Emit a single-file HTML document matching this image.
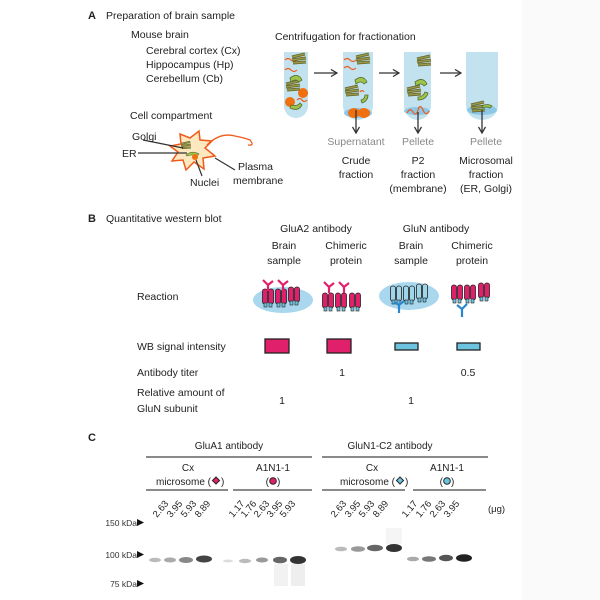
<!DOCTYPE html>
<html><head><meta charset="utf-8"><style>
html,body{margin:0;padding:0;background:#fff;}
svg{display:block;font-family:"Liberation Sans",Arial,sans-serif;}
</style></head><body>
<svg width="600" height="600" viewBox="0 0 600 600" xmlns="http://www.w3.org/2000/svg">
<defs>
<marker id="ar" markerWidth="8" markerHeight="8" refX="7" refY="4" orient="auto" markerUnits="userSpaceOnUse"><path d="M1,0.5 L7,4 L1,7.5" fill="none" stroke="#333" stroke-width="1.3"/></marker>
<g id="pr"><rect x="-5.5" y="-9" width="5" height="15" rx="2.2" fill="#e0206a" stroke="#222" stroke-width="0.8"/><rect x="0.5" y="-9" width="5" height="15" rx="2.2" fill="#e0206a" stroke="#222" stroke-width="0.8"/><rect x="-4" y="5" width="3" height="4" fill="#6cc3e0" stroke="#222" stroke-width="0.6"/><rect x="1" y="5" width="3" height="4" fill="#6cc3e0" stroke="#222" stroke-width="0.6"/></g>
<g id="pb"><rect x="-5.5" y="-9" width="5" height="15" rx="2.2" fill="#9fd6ea" stroke="#222" stroke-width="0.8"/><rect x="0.5" y="-9" width="5" height="15" rx="2.2" fill="#9fd6ea" stroke="#222" stroke-width="0.8"/><rect x="-4" y="5" width="3" height="4" fill="#6cc3e0" stroke="#222" stroke-width="0.6"/><rect x="1" y="5" width="3" height="4" fill="#6cc3e0" stroke="#222" stroke-width="0.6"/></g>
<path id="abp" d="M0,0 L0,-6 M0,-6 L-5,-11 M0,-6 L5,-10" fill="none" stroke="#e0206a" stroke-width="2.2"/>
<g id="golgi"><path d="M-7,-3 L6,-6 M-7,0 L7,-2 M-6,3 L7,2" stroke="#6a6a2a" stroke-width="3"/><path d="M-7,-3 L6,-6 M-7,0 L7,-2 M-6,3 L7,2" stroke="#9a9a50" stroke-width="1.2"/></g>
</defs>
<rect x="522" y="0" width="78" height="600" fill="#fafafa"/>

<!-- A -->
<text x="88" y="19" font-size="11" font-weight="bold" fill="#222">A</text>
<text x="106" y="19" font-size="10.5" fill="#222">Preparation of brain sample</text>
<text x="131" y="38" font-size="10.5" fill="#222">Mouse brain</text>
<text x="146" y="54" font-size="10.5" fill="#222">Cerebral cortex (Cx)</text>
<text x="146" y="68" font-size="10.5" fill="#222">Hippocampus (Hp)</text>
<text x="146" y="82" font-size="10.5" fill="#222">Cerebellum (Cb)</text>
<text x="275" y="40" font-size="10.5" fill="#222">Centrifugation for fractionation</text>

<g fill="#c3e2f0">
<path d="M284,52 H308 V106 A12,12 0 0 1 284,106 Z"/>
<path d="M343,52 H373 V106 A15,14 0 0 1 343,106 Z"/>
<path d="M404,52 H431 V106 A13.5,14 0 0 1 404,106 Z"/>
<path d="M466,52 H498 V106 A16,14 0 0 1 466,106 Z"/>
</g>
<ellipse cx="358" cy="113" rx="14" ry="5" fill="#8cc8e6"/>
<ellipse cx="417" cy="111" rx="13" ry="4" fill="#8cc8e6"/>
<ellipse cx="482" cy="110" rx="15" ry="5" fill="#8cc8e6"/>
<g fill="none" stroke="#f05a1a" stroke-width="1.2">
<path d="M285,60 q3,-3 6,0 t6,0 t6,-2"/><path d="M285,70 q3,-3 6,0 t6,0"/><path d="M297,100 q3,-3 5,0 t5,0"/>
<path d="M344,60 q3,-3 6,0 t6,0"/><path d="M344,68 q3,-3 6,0 t6,0"/><path d="M360,92 q2,-3 4,0"/>
<path d="M407,113 q3,-6 6,-1 t5,-2 t5,0 t6,1"/>
</g>
<g fill="#f07010">
<circle cx="303" cy="93" r="5"/><circle cx="290" cy="102" r="5"/>
<ellipse cx="354" cy="113" rx="6" ry="5"/><ellipse cx="364" cy="113" rx="6" ry="5"/>
</g>
<use href="#golgi" x="299" y="60"/><use href="#golgi" x="293" y="87"/>
<use href="#golgi" x="363" y="60"/><use href="#golgi" x="352" y="92"/>
<use href="#golgi" x="424" y="62"/><use href="#golgi" x="414" y="92"/>
<use href="#golgi" x="478" y="108"/>
<g fill="#9ec44a" stroke="#556b2f" stroke-width="0.8">
<path d="M290,78 q8,-6 12,2 l-3,2 q-3,-4 -8,0 z"/><path d="M290,108 q8,4 12,-3 l-2,-2 q-3,4 -9,2 z"/>
<path d="M355,80 q8,-6 12,2 l-3,2 q-3,-4 -8,0 z"/><path d="M362,103 q6,-2 6,-8 l-3,0 q0,4 -4,5 z"/>
<path d="M415,82 q8,-6 12,2 l-3,2 q-3,-4 -8,0 z"/><path d="M418,100 q8,0 10,-7 l-3,-1 q-2,5 -7,5 z"/>
<path d="M482,106 q5,-3 10,0 l-2,2 q-3,-2 -7,0 z"/>
</g>
<g stroke="#333" stroke-width="1.3" marker-end="url(#ar)">
<line x1="314" y1="73" x2="337" y2="73"/>
<line x1="379" y1="73" x2="399" y2="73"/>
<line x1="440" y1="73" x2="461" y2="73"/>
<line x1="356" y1="110" x2="356" y2="133"/>
<line x1="418" y1="112" x2="418" y2="133"/>
<line x1="482" y1="110" x2="482" y2="133"/>
</g>
<g font-size="10.5" text-anchor="middle">
<text x="356" y="145" fill="#888">Supernatant</text>
<text x="418" y="145" fill="#888">Pellete</text>
<text x="486" y="145" fill="#888">Pellete</text>
<text x="356" y="164" fill="#222">Crude</text><text x="356" y="178" fill="#222">fraction</text>
<text x="418" y="164" fill="#222">P2</text><text x="418" y="178" fill="#222">fraction</text><text x="418" y="192" fill="#222">(membrane)</text>
<text x="486" y="164" fill="#222">Microsomal</text><text x="486" y="178" fill="#222">fraction</text><text x="486" y="192" fill="#222">(ER, Golgi)</text>
</g>

<text x="130" y="119" font-size="10.5" fill="#222">Cell compartment</text>
<path d="M180,134 L190,138 L199,131 L200,140 L212,141 L205,148 L215,156 L203,158 L204,169 L194,162 L186,170 L183,160 L172,161 L178,152 L170,146 L181,144 Z" fill="#fde8c0" stroke="#f05a1a" stroke-width="1.5"/>
<path d="M207,145 Q220,132 235,136 Q245,138 250,140 Q255,146 248,145" fill="none" stroke="#f05a1a" stroke-width="1.3"/>
<use href="#golgi" transform="translate(186,146) scale(0.7)"/>
<path d="M186,155 q6,-5 13,-1 l-2,2 q-5,-2 -10,0 z" fill="#9ec44a" stroke="#556b2f" stroke-width="0.6"/>
<circle cx="195" cy="157" r="3" fill="#f07010"/>
<g stroke="#333" stroke-width="1.2">
<line x1="143" y1="140" x2="183" y2="148"/>
<line x1="138" y1="153" x2="187" y2="153"/>
<line x1="196" y1="160" x2="202" y2="176"/>
<line x1="215" y1="158" x2="235" y2="170"/>
</g>
<g font-size="10.5" fill="#222">
<text x="132" y="140">Golgi</text>
<text x="122" y="157">ER</text>
<text x="190" y="186">Nuclei</text>
<text x="238" y="170">Plasma</text>
<text x="233" y="184">membrane</text>
</g>

<!-- B -->
<text x="88" y="222" font-size="11" font-weight="bold" fill="#222">B</text>
<g font-size="10.5" fill="#222">
<text x="106" y="222">Quantitative western blot</text>
<text x="137" y="300">Reaction</text>
<text x="137" y="350">WB signal intensity</text>
<text x="137" y="376">Antibody titer</text>
<text x="137" y="396">Relative amount of</text>
<text x="137" y="412">GluN subunit</text>
</g>
<g font-size="10.5" fill="#222" text-anchor="middle">
<text x="316" y="232">GluA2 antibody</text>
<text x="436" y="232">GluN antibody</text>
<text x="284" y="249">Brain</text><text x="284" y="264">sample</text>
<text x="346" y="249">Chimeric</text><text x="346" y="264">protein</text>
<text x="411" y="249">Brain</text><text x="411" y="264">sample</text>
<text x="472" y="249">Chimeric</text><text x="472" y="264">protein</text>
<text x="342" y="376">1</text><text x="468" y="376">0.5</text>
<text x="282" y="404">1</text><text x="411" y="404">1</text>
</g>
<ellipse cx="283" cy="300" rx="30" ry="13" fill="#a9d8ee"/>
<ellipse cx="409" cy="296" rx="30" ry="14" fill="#a9d8ee"/>
<use href="#pr" x="268" y="298"/><use href="#pr" x="281" y="298"/><use href="#pr" x="294" y="296"/>
<use href="#pr" x="328" y="302"/><use href="#pr" x="341" y="302"/><use href="#pr" x="355" y="302"/>
<use href="#pb" x="396" y="295"/><use href="#pb" x="409" y="295"/><use href="#pb" x="422" y="293"/>
<use href="#pr" x="457" y="294"/><use href="#pr" x="470" y="294"/><use href="#pr" x="484" y="292"/>
<use href="#abp" x="268" y="291"/><use href="#abp" x="283" y="291"/>
<use href="#abp" x="329" y="293"/><use href="#abp" x="344" y="293"/>
<g stroke="#2a86d0" stroke-width="2.2" fill="none"><path d="M399,305 v8 M399,305 l-5,-3 M399,305 l5,-4"/><path d="M462,309 v8 M462,309 l-5,-4 M462,309 l5,-5"/></g>
<rect x="265" y="339" width="24" height="14" fill="#e0206a" stroke="#222" stroke-width="1.3"/>
<rect x="327" y="339" width="24" height="14" fill="#e0206a" stroke="#222" stroke-width="1.3"/>
<rect x="395" y="343" width="23" height="7" fill="#6cc3e0" stroke="#222" stroke-width="1.3"/>
<rect x="457" y="343" width="23" height="7" fill="#6cc3e0" stroke="#222" stroke-width="1.3"/>

<!-- C -->
<text x="88" y="441" font-size="11" font-weight="bold" fill="#222">C</text>
<g font-size="10" fill="#222" text-anchor="middle">
<text x="229" y="449">GluA1 antibody</text>
<text x="390" y="449">GluN1-C2 antibody</text>
<text x="188" y="471">Cx</text>
<text x="273" y="471">A1N1-1</text>
<text x="372" y="471">Cx</text>
<text x="447" y="471">A1N1-1</text>
</g>
<g font-size="10" fill="#222">
<text x="211" y="485" text-anchor="end">microsome (</text><text x="221" y="485">)</text>
<text x="269" y="485" text-anchor="end">(</text><text x="277" y="485">)</text>
<text x="395" y="485" text-anchor="end">microsome (</text><text x="405" y="485">)</text>
<text x="443" y="485" text-anchor="end">(</text><text x="451" y="485">)</text>
</g>
<g stroke="#444" stroke-width="1.2">
<line x1="146" y1="457" x2="312" y2="457"/><line x1="322" y1="457" x2="488" y2="457"/>
<line x1="146" y1="490" x2="228" y2="490"/><line x1="233" y1="490" x2="312" y2="490"/>
<line x1="322" y1="490" x2="405" y2="490"/><line x1="413" y1="490" x2="486" y2="490"/>
</g>
<rect x="213.5" y="478" width="5" height="5" transform="rotate(45 216 480.5)" fill="#e0206a" stroke="#222"/>
<circle cx="273" cy="481" r="3.3" fill="#e0206a" stroke="#222"/>
<rect x="397.5" y="478" width="5" height="5" transform="rotate(45 400 480.5)" fill="#6cc3e0" stroke="#222"/>
<circle cx="447" cy="481" r="3.3" fill="#6cc3e0" stroke="#222"/>
<g font-size="9.5" fill="#222">
<text transform="translate(157,518) rotate(-50)">2.63</text>
<text transform="translate(171,518) rotate(-50)">3.95</text>
<text transform="translate(185,518) rotate(-50)">5.93</text>
<text transform="translate(199,518) rotate(-50)">8.89</text>
<text transform="translate(233,518) rotate(-50)">1.17</text>
<text transform="translate(245,518) rotate(-50)">1.76</text>
<text transform="translate(258,518) rotate(-50)">2.63</text>
<text transform="translate(271,518) rotate(-50)">3.95</text>
<text transform="translate(284,518) rotate(-50)">5.93</text>
<text transform="translate(335,518) rotate(-50)">2.63</text>
<text transform="translate(349,518) rotate(-50)">3.95</text>
<text transform="translate(363,518) rotate(-50)">5.93</text>
<text transform="translate(377,518) rotate(-50)">8.89</text>
<text transform="translate(406,518) rotate(-50)">1.17</text>
<text transform="translate(420,518) rotate(-50)">1.76</text>
<text transform="translate(434,518) rotate(-50)">2.63</text>
<text transform="translate(448,518) rotate(-50)">3.95</text>
<text x="488" y="512">(μg)</text>
</g>
<g font-size="8.5" fill="#333" text-anchor="end">
<text x="137" y="526">150 kDa</text><text x="137" y="558">100 kDa</text><text x="137" y="587">75 kDa</text>
</g>
<g fill="#111"><path d="M137,519 l7,3.5 l-7,3.5z"/><path d="M137,551 l7,3.5 l-7,3.5z"/><path d="M137,580 l7,3.5 l-7,3.5z"/></g>
<g>
<rect x="274" y="564" width="14" height="22" fill="#f2f2f2"/><rect x="291" y="564" width="14" height="22" fill="#eeeeee"/>
<rect x="386" y="528" width="16" height="16" fill="#f5f5f5"/>
<ellipse cx="155" cy="560" rx="6" ry="2.2" fill="#bbb"/>
<ellipse cx="170" cy="560" rx="6" ry="2.5" fill="#aaa"/>
<ellipse cx="186" cy="560" rx="7" ry="3" fill="#888"/>
<ellipse cx="204" cy="559" rx="8" ry="3.5" fill="#444"/>
<ellipse cx="228" cy="561" rx="5" ry="1.5" fill="#ddd"/>
<ellipse cx="245" cy="561" rx="6" ry="2.2" fill="#bbb"/>
<ellipse cx="262" cy="560" rx="6" ry="2.5" fill="#999"/>
<ellipse cx="280" cy="560" rx="7" ry="3.3" fill="#666"/>
<ellipse cx="298" cy="560" rx="8" ry="4" fill="#333"/>
<ellipse cx="341" cy="549" rx="6" ry="2.3" fill="#bbb"/>
<ellipse cx="358" cy="549" rx="7" ry="2.8" fill="#999"/>
<ellipse cx="375" cy="548" rx="8" ry="3.2" fill="#666"/>
<ellipse cx="394" cy="548" rx="8" ry="4" fill="#333"/>
<ellipse cx="413" cy="559" rx="6" ry="2.3" fill="#aaa"/>
<ellipse cx="429" cy="559" rx="7" ry="2.8" fill="#777"/>
<ellipse cx="446" cy="558" rx="7" ry="3.2" fill="#555"/>
<ellipse cx="464" cy="558" rx="8" ry="3.8" fill="#222"/>
</g>
</svg>
</body></html>
